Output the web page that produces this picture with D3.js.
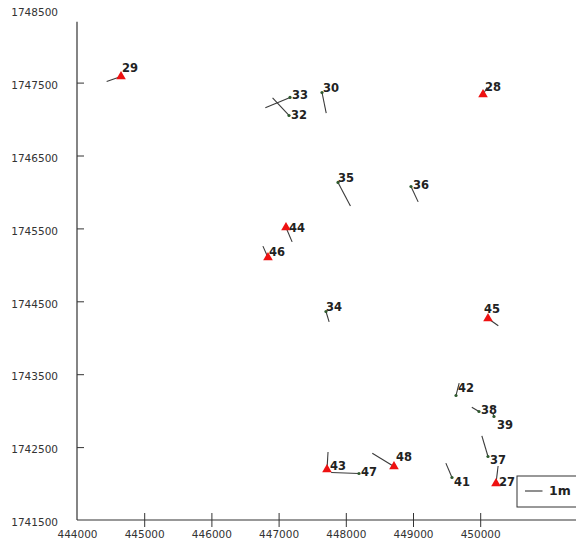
<!DOCTYPE html>
<html>
<head>
<meta charset="utf-8">
<script src="https://cdn.jsdelivr.net/npm/d3@7"></script>
<style>
  html, body { margin: 0; padding: 0; background: #fff; }
  svg { display: block; }
</style>
</head>
<body>
<svg id="plot"></svg>
<script>
// station ids, marker kind, easting / northing (m) and displacement (m)
const ids = ['29', '33', '32', '30', '35', '36', '44', '46', '34', '28', '45', '42', '38', '39', '37', '41', '27', '43', '47', '48'];
const kinds = ['tri', 'dot', 'dot', 'dot', 'dot', 'dot', 'tri', 'tri', 'dot', 'tri', 'tri', 'dot', 'dot', 'dot', 'dot', 'dot', 'tri', 'tri', 'dot', 'tri'];
const easting = [444655, 447170, 447155, 447646, 447884, 448970, 447110, 446842, 447705, 450042, 450116, 449640, 449982, 450205, 450116, 449580, 450235, 447720, 448196, 448717];
const northing = [1747584, 1747296, 1747049, 1747364, 1746130, 1746075, 1745512, 1745101, 1744360, 1747337, 1744264, 1743208, 1742988, 1742920, 1742371, 1742083, 1742001, 1742193, 1742138, 1742234];
const dEast = [-0.82, -1.41, -0.94, 0.24, 0.71, 0.41, 0.35, -0.29, 0.18, 0.24, 0.59, 0.18, -0.41, -0.06, -0.35, -0.35, 0.12, 0.06, -1.59, -1.24];
const dNorth = [-0.29, -0.59, 1.0, -1.18, -1.35, -0.88, -0.82, 0.65, -0.59, 0.41, -0.41, 0.71, 0.24, 0.18, 1.18, 0.82, 1.0, 1.0, 0.06, 0.76];

const xTicks = [444000, 445000, 446000, 447000, 448000, 449000, 450000];
const yTicks = [1741500, 1742500, 1743500, 1744500, 1745500, 1746500, 1747500, 1748500];
const legendMeters = 1;

// label nudges in px (label placement from the original map)
const labelNudge = {
  '29': [1, -9], '33': [2, -3], '32': [2, -1], '30': [1, -5], '35': [0, -5], '36': [2, -2],
  '44': [3, 0], '46': [1, -6], '34': [0, -5], '28': [2, -8], '45': [-4, -10], '42': [2, -8],
  '38': [2, -2], '39': [3, 9], '37': [2, 3], '41': [2, 4], '27': [3, -2], '43': [3, -4],
  '47': [2, -2], '48': [2, -10]
};

const width = 576;
const height = 551;
const pxPerMetreX = 0.0672;
const pxPerMetreY = 0.0729;
const origin = { x: 77, y: 520 };
const vecScale = 17.5;            // px per metre of displacement
const frameTop = 1748335;         // where the left frame line stops

const data = ids.map((id, i) => ({
  id, kind: kinds[i], x: easting[i], y: northing[i], de: dEast[i], dn: dNorth[i]
}));

const svg = d3.select('svg#plot')
  .attr('width', width)
  .attr('height', height)
  .attr('viewBox', `0 0 ${width} ${height}`)
  .style('background-color', '#ffffff');

const xScale = d3.scaleLinear()
  .domain([444000, 451000])
  .range([origin.x, origin.x + 7000 * pxPerMetreX]);

const yScale = d3.scaleLinear()
  .domain([1741500, 1748500])
  .range([origin.y, origin.y - 7000 * pxPerMetreY]);

const axisColor = '#333';
const tickFont = '"DejaVu Sans", Verdana, sans-serif';

// x axis, ticks cross the line
const xAxis = d3.axisBottom(xScale)
  .tickValues(xTicks)
  .tickFormat(d3.format('d'))
  .tickSizeOuter(0)
  .tickSize(7)
  .tickPadding(4);

const gx = svg.append('g')
  .attr('class', 'x-axis')
  .attr('transform', `translate(0,${origin.y})`)
  .call(xAxis);

gx.select('.domain').remove();
gx.append('line')
  .attr('x1', origin.x).attr('x2', width)
  .attr('stroke', axisColor).attr('stroke-width', 1.2);
gx.selectAll('.tick line').attr('y1', -7).attr('y2', 7).attr('stroke', axisColor);
gx.selectAll('.tick text')
  .style('font-family', tickFont)
  .style('font-size', '10.5px')
  .attr('fill', '#333');
gx.selectAll('.tick').filter((d) => d === xTicks[0]).select('line').remove();

// y axis, ticks point inwards
const yAxis = d3.axisLeft(yScale)
  .tickValues(yTicks)
  .tickFormat(d3.format('d'))
  .tickSizeOuter(0)
  .tickSizeInner(-7)
  .tickPadding(19);

const gy = svg.append('g')
  .attr('class', 'y-axis')
  .attr('transform', `translate(${origin.x},0)`)
  .call(yAxis);

gy.select('.domain').remove();
gy.append('line')
  .attr('y1', yScale(frameTop)).attr('y2', origin.y)
  .attr('stroke', axisColor).attr('stroke-width', 1.2);
gy.selectAll('.tick line').attr('stroke', axisColor);
gy.selectAll('.tick').filter((d) => d === yTicks[0] || d === yTicks[yTicks.length - 1]).select('line').remove();
gy.selectAll('.tick text')
  .attr('dy', '0.55em')
  .style('font-family', tickFont)
  .style('font-size', '10.5px')
  .attr('fill', '#333');

// displacement vectors
const points = svg.append('g').attr('class', 'points')
  .selectAll('g.point')
  .data(data)
  .join('g')
  .attr('class', 'point')
  .attr('transform', (d) => `translate(${xScale(d.x)},${yScale(d.y)})`);

points.append('line')
  .attr('x1', 0).attr('y1', 0)
  .attr('x2', (d) => d.de * vecScale)
  .attr('y2', (d) => -d.dn * vecScale)
  .attr('stroke', '#3a3a3a')
  .attr('stroke-width', 1.1);

const tri = d3.symbol().type(d3.symbolTriangle).size(40);

points.filter((d) => d.kind === 'tri')
  .append('path')
  .attr('d', tri)
  .attr('fill', '#ee1111');

points.filter((d) => d.kind === 'dot')
  .append('circle')
  .attr('r', 1.6)
  .attr('fill', '#2f5a2f');

points.append('text')
  .attr('x', (d) => labelNudge[d.id][0])
  .attr('y', (d) => labelNudge[d.id][1])
  .attr('dy', '0.35em')
  .style('font-family', tickFont)
  .style('font-size', '11.5px')
  .style('font-weight', 'bold')
  .attr('fill', '#222')
  .text((d) => d.id);

// scale legend
const legend = svg.append('g').attr('class', 'legend').attr('transform', 'translate(517,476)');
legend.append('rect')
  .attr('x', 0).attr('y', 0)
  .attr('width', 70).attr('height', 31)
  .attr('fill', '#fff')
  .attr('stroke', '#333');
legend.append('line')
  .attr('x1', 8).attr('x2', 8 + legendMeters * vecScale)
  .attr('y1', 15).attr('y2', 15)
  .attr('stroke', '#333').attr('stroke-width', 1.1);
legend.append('text')
  .attr('x', 32).attr('y', 15)
  .attr('dy', '0.35em')
  .style('font-family', tickFont)
  .style('font-size', '12.5px')
  .style('font-weight', 'bold')
  .attr('fill', '#222')
  .text(`${legendMeters}m`);
</script>
</body>
</html>
